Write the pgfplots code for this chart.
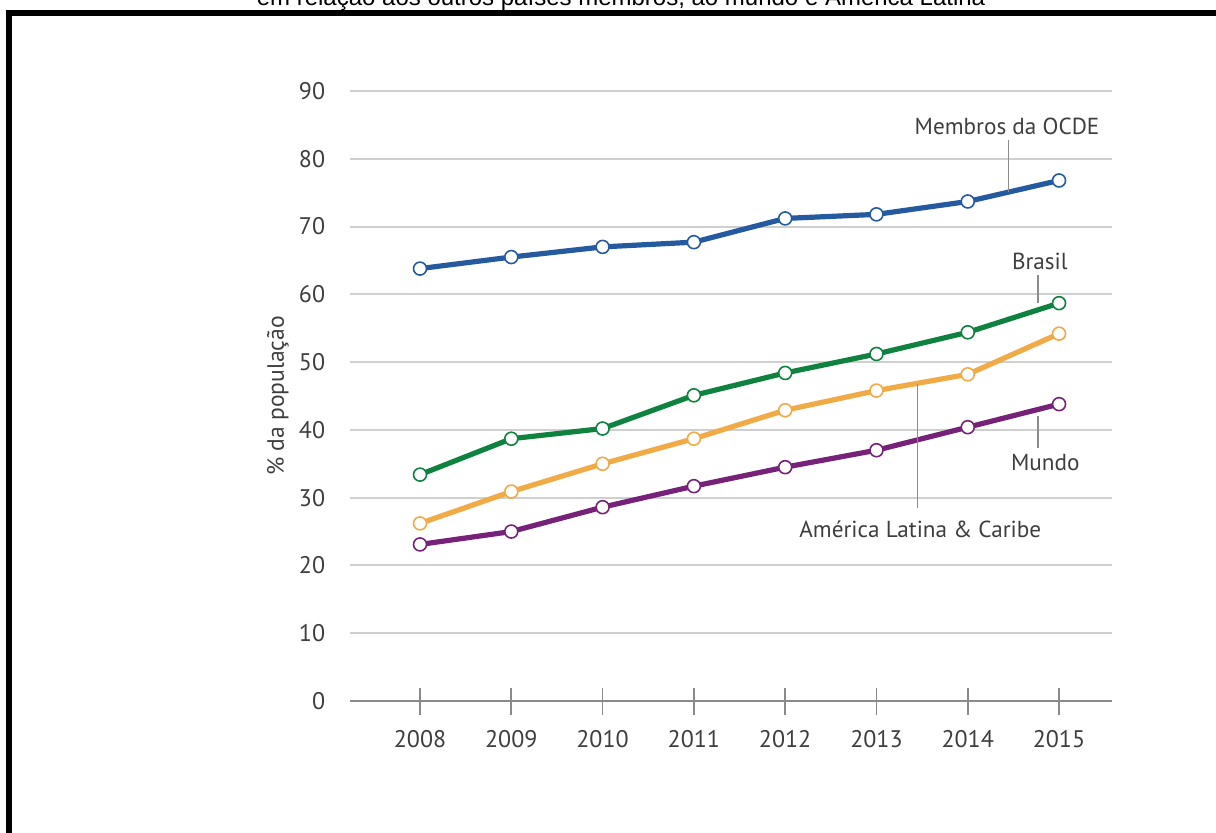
\documentclass[border=0pt]{standalone}
\usepackage{fontspec}
\usepackage{pgfplots}
\pgfplotsset{compat=1.18}
\setmainfont{PT Sans}
\newfontfamily\titlefont{Liberation Sans}
\definecolor{cOCDE}{HTML}{265AA0}
\definecolor{cBR}{HTML}{108240}
\definecolor{cALC}{HTML}{F0AA46}
\definecolor{cMU}{HTML}{762278}
\definecolor{txt}{HTML}{3E3E3E}
\definecolor{gridc}{HTML}{CFCFCF}
\definecolor{axc}{HTML}{8A8A8A}
\definecolor{leadc}{HTML}{8C8C8C}
\begin{document}
\begin{tikzpicture}
% frame and title (partly cut off at the page edge, as in the reference)
\draw[line width=3pt] (4.5pt,-60pt) -- (4.5pt,409.5pt) -- (700pt,409.5pt);
\node[anchor=base, font=\titlefont\fontsize{12}{14}\selectfont, inner sep=0pt] at (310.5pt,413pt)
  {em relação aos outros países membros, ao mundo e América Latina};
\begin{axis}[
  at={(175pt,65.5pt)}, anchor=south west,
  scale only axis, width=381pt, height=305pt,
  xmin=2007.233, xmax=2015.58, ymin=0, ymax=90,
  axis lines=left,
  axis line style={-},
  x axis line style={draw=axc, line width=1pt},
  y axis line style={draw=none},
  xtick={2008,...,2015},
  xticklabels={2008,2009,2010,2011,2012,2013,2014,2015},
  ytick={0,10,...,90},
  ymajorgrids, grid style={draw=gridc, line width=1pt},
  tick align=center,
  major tick length=13.5pt,
  xtick style={draw=axc, line width=0.8pt},
  ytick style={draw=none},
  /pgf/number format/assume math mode=true,
  tick label style={font=\fontsize{12}{14}\selectfont, text=txt},
  xticklabel style={anchor=north, inner sep=0pt, yshift=-8pt},
  yticklabel style={anchor=east, inner sep=0pt, xshift=-5.5pt},
  clip=false,
]
\addplot[cMU, line width=2.6pt, mark=*, mark size=3.25pt, mark options={fill=white, draw=cMU, line width=0.8pt}]
  coordinates {(2008,23.1) (2009,25.0) (2010,28.6) (2011,31.7) (2012,34.5) (2013,37.0) (2014,40.4) (2015,43.8)};
\addplot[cALC, line width=2.6pt, mark=*, mark size=3.25pt, mark options={fill=white, draw=cALC, line width=0.8pt}]
  coordinates {(2008,26.2) (2009,30.9) (2010,35.0) (2011,38.7) (2012,42.9) (2013,45.8) (2014,48.2) (2015,54.2)};
\addplot[cBR, line width=2.6pt, mark=*, mark size=3.25pt, mark options={fill=white, draw=cBR, line width=0.8pt}]
  coordinates {(2008,33.4) (2009,38.7) (2010,40.2) (2011,45.1) (2012,48.4) (2013,51.2) (2014,54.4) (2015,58.7)};
\addplot[cOCDE, line width=2.6pt, mark=*, mark size=3.25pt, mark options={fill=white, draw=cOCDE, line width=0.8pt}]
  coordinates {(2008,63.8) (2009,65.5) (2010,67.0) (2011,67.7) (2012,71.2) (2013,71.8) (2014,73.7) (2015,76.8)};
% leader lines
\draw[leadc, line width=0.6pt] (axis cs:2014.45,82.8) -- (axis cs:2014.45,75.1);
\draw[leadc, line width=0.6pt] (axis cs:2014.77,62.8) -- (axis cs:2014.77,58.7);
\draw[leadc, line width=0.6pt] (axis cs:2014.77,42.1) -- (axis cs:2014.77,37.4);
\draw[leadc, line width=0.6pt] (axis cs:2013.45,46.8) -- (axis cs:2013.45,28.5);
% labels
\node[text=txt, font=\fontsize{11.6}{14}\selectfont] at (axis cs:2014.43,84.8) {Membros da OCDE};
\node[text=txt, font=\fontsize{11.6}{14}\selectfont] at (axis cs:2014.79,64.9) {Brasil};
\node[text=txt, font=\fontsize{11.6}{14}\selectfont] at (axis cs:2014.85,35.2) {Mundo};
\node[text=txt, font=\fontsize{11.6}{14}\selectfont] at (axis cs:2013.48,25.4) {América Latina \& Caribe};
\node[text=txt, font=\fontsize{11.8}{14}\selectfont, rotate=90] at (axis description cs:-0.0945,0.5) {\% da população};
\end{axis}
\pgfresetboundingbox
\useasboundingbox (0,0) rectangle (608pt,416pt);
\end{tikzpicture}
\end{document}
